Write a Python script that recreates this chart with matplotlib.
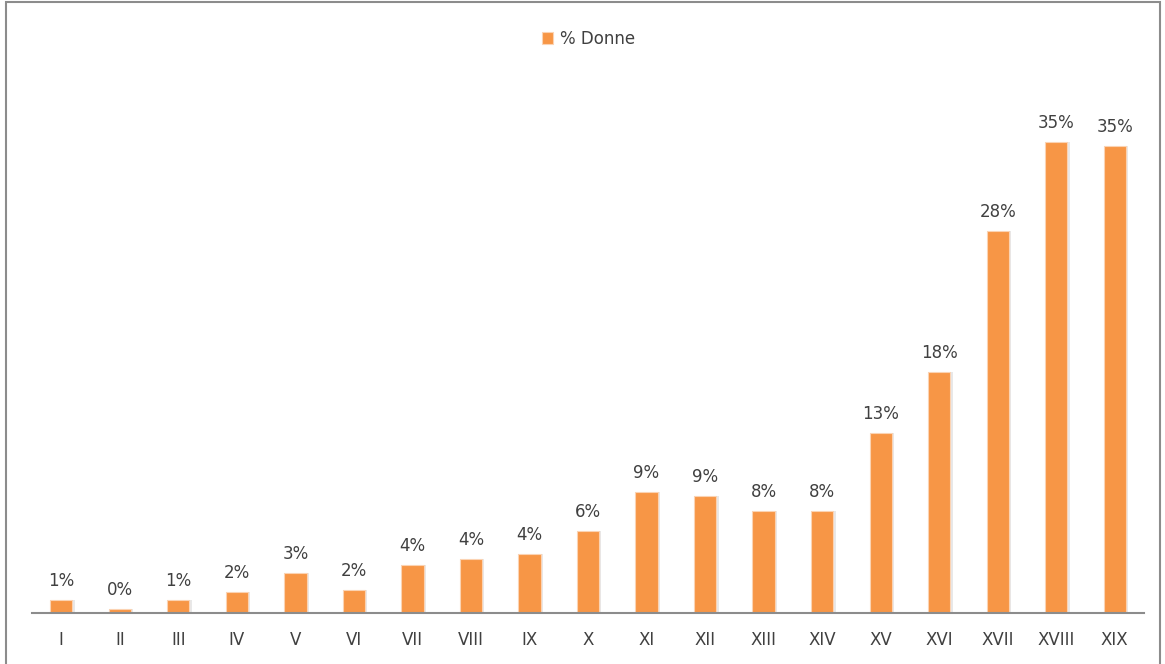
import matplotlib.pyplot as plt
import numpy as np
from matplotlib.patches import Rectangle

categories = ["I", "II", "III", "IV", "V", "VI", "VII", "VIII", "IX", "X",
              "XI", "XII", "XIII", "XIV", "XV", "XVI", "XVII", "XVIII", "XIX"]
values = [0.96, 0.3, 0.96, 1.56, 3.0, 1.7, 3.6, 4.0, 4.4, 6.1,
          9.0, 8.7, 7.6, 7.6, 13.4, 17.9, 28.4, 35.0, 34.7]
labels = ["1%", "0%", "1%", "2%", "3%", "2%", "4%", "4%", "4%", "6%",
          "9%", "9%", "8%", "8%", "13%", "18%", "28%", "35%", "35%"]

text_color = "#404040"
bar_color = "#F79646"

fig = plt.figure(figsize=(11.65, 6.64), dpi=100)
ax = fig.add_axes([0.0275, 0.0768, 0.9545, 0.81])

x = np.arange(len(categories))
# faint shadow behind bars
ax.bar(x + 0.02, values, width=0.42, color="#d9d9d9", alpha=0.6, zorder=1)
bars = ax.bar(x, values, width=0.38, color=bar_color, edgecolor="#fbd3b3",
              linewidth=0.8, label="% Donne", zorder=2)

for xi, v, lab in zip(x, values, labels):
    ax.text(xi, v + 0.75, lab, ha="center", va="bottom", fontsize=12,
            color=text_color)

ax.set_xlim(-0.5, len(categories) - 0.5)
ax.set_ylim(0, 40)
ax.set_xticks(x)
ax.set_xticklabels(categories, fontsize=12, color=text_color)
ax.tick_params(axis="x", length=0, pad=13)
ax.set_yticks([])
for s in ["top", "right", "left"]:
    ax.spines[s].set_visible(False)
ax.spines["bottom"].set_color("#8c8c8c")
ax.spines["bottom"].set_linewidth(1.5)

leg = fig.legend(handles=[bars], labels=["% Donne"], loc="center",
                 bbox_to_anchor=(0.505, 0.942), frameon=False, fontsize=12,
                 handlelength=0.7, handleheight=0.7, handletextpad=0.4)
for t in leg.get_texts():
    t.set_color(text_color)

# outer chart border
fig.patches.append(Rectangle((0.005, -0.01), 0.991, 1.007, transform=fig.transFigure,
                             fill=False, edgecolor="#8c8c8c", linewidth=1.5))

fig.savefig("out.png", dpi=100)
